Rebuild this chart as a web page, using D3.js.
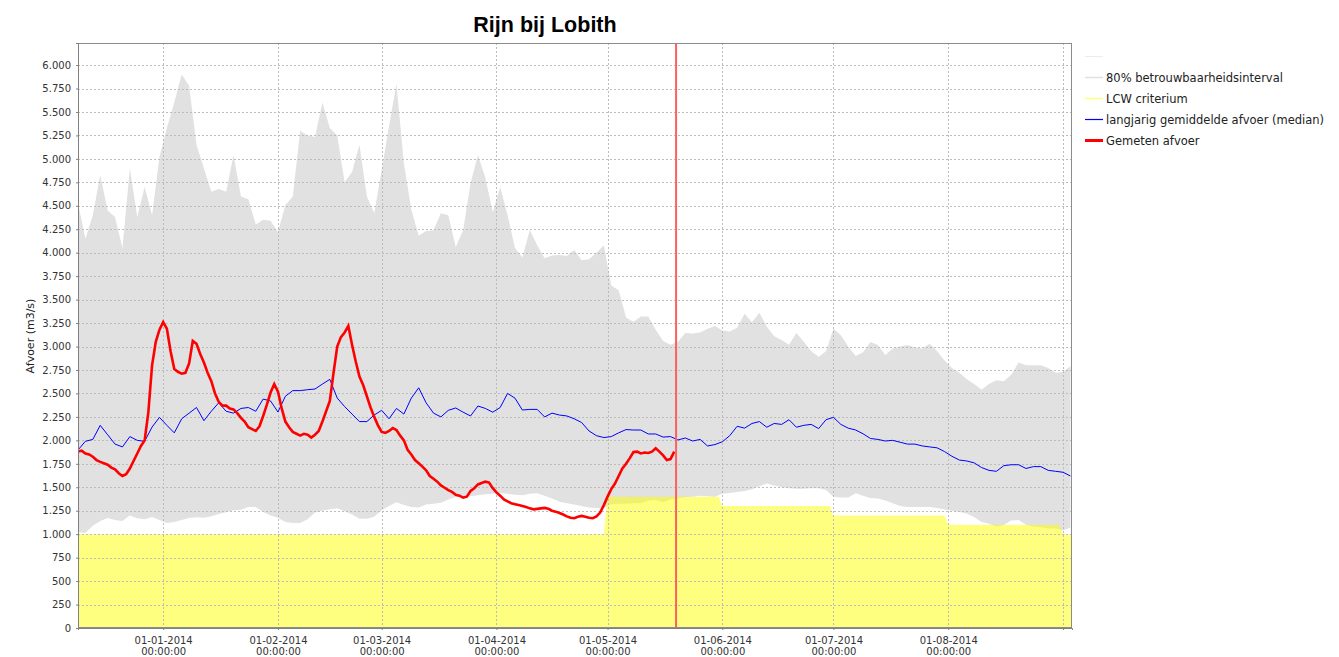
<!DOCTYPE html>
<html><head><meta charset="utf-8">
<script src="https://cdn.jsdelivr.net/npm/d3@7"></script>
<style>
body{margin:0;background:#fff;}
svg{display:block;font-family:"DejaVu Sans",sans-serif;}
</style>
</head><body>
<svg id="c" width="1339" height="657"></svg>
<script>
const chartTitle = "Rijn bij Lobith";
const yAxisLabel = "Afvoer (m3/s)";
const legendLabels = ["", "80% betrouwbaarheidsinterval", "LCW criterium", "langjarig gemiddelde afvoer (median)", "Gemeten afvoer"];
const startDate = "2013-12-09T00:00";
const endDate = "2014-09-03T10:00";
const nowDate = "2014-05-19T12:00";
const yTicks = [0,250,500,750,1000,1250,1500,1750,2000,2250,2500,2750,3000,3250,3500,3750,4000,4250,4500,4750,5000,5250,5500,5750,6000];
const xTickDates = ["2014-01-01T00:00","2014-02-01T00:00","2014-03-01T00:00","2014-04-01T00:00","2014-05-01T00:00","2014-06-01T00:00","2014-07-01T00:00","2014-08-01T00:00","2014-09-01T00:00"];
const xTickLabelled = [true,true,true,true,true,true,true,true,false];
const bandStepDays = 2;

// 80% interval, upper bound (every 2 days from startDate)
const upperValues = [4530,4150,4400,4828,4450,4380,4050,4900,4380,4700,4400,5020,5329,5600,5900,5780,5150,4900,4650,4680,
4650,5041,4600,4570,4300,4350,4340,4220,4508,4600,5300,5250,5233,5600,5330,5250,4750,4860,5150,4600,
4420,4880,5350,5800,4950,4460,4180,4230,4240,4420,4400,4060,4240,4740,5040,4800,4430,4700,4400,4050,
3950,4242,4080,3940,3970,3975,3965,4030,3920,3930,4000,4080,3650,3600,3310,3265,3320,3320,3180,3060,
3020,3050,3144,3140,3150,3190,3220,3170,3160,3200,3350,3260,3360,3210,3110,3070,3020,3144,3050,2950,
2890,2950,3190,3120,3000,2900,2940,3048,3016,2910,2980,3000,3016,2990,2980,3030,2950,2850,2770,2720,
2650,2600,2540,2600,2640,2630,2700,2830,2800,2800,2800,2770,2720,2728,2790];
// 80% interval, lower bound
const lowerValues = [1023,1012,1090,1140,1172,1150,1140,1200,1170,1160,1183,1150,1120,1130,1150,1172,1180,1175,1190,1215,
1235,1255,1260,1290,1290,1236,1200,1175,1130,1119,1119,1160,1230,1250,1265,1275,1245,1210,1165,1165,
1185,1255,1300,1340,1310,1290,1285,1315,1325,1335,1370,1395,1400,1405,1415,1425,1430,1440,1430,1420,
1415,1430,1435,1410,1380,1345,1330,1315,1300,1285,1280,1280,1320,1325,1325,1330,1330,1360,1365,1340,
1370,1380,1395,1400,1410,1405,1400,1430,1440,1450,1460,1480,1510,1540,1520,1500,1490,1485,1485,1490,
1490,1470,1400,1390,1390,1435,1410,1385,1380,1360,1330,1300,1290,1290,1290,1290,1280,1262,1250,1236,
1220,1180,1130,1110,1080,1098,1145,1150,1100,1080,1075,1060,1060,1040,1070];
// long-term median
const medianValues = [1897,1990,2010,2160,2060,1960,1930,2040,2000,1990,2142,2245,2160,2080,2230,2290,2350,2210,2310,2400,
2310,2290,2340,2350,2310,2440,2420,2302,2470,2530,2530,2540,2547,2600,2650,2451,2360,2280,2200,2200,
2270,2320,2230,2340,2280,2450,2560,2400,2290,2250,2320,2345,2300,2260,2366,2340,2300,2350,2500,2450,
2323,2330,2330,2250,2290,2270,2260,2230,2190,2100,2050,2030,2040,2080,2115,2110,2110,2068,2068,2035,
2040,2004,2025,1993,2010,1940,1955,1985,2050,2150,2130,2180,2200,2140,2180,2170,2220,2140,2160,2170,
2125,2220,2245,2170,2130,2110,2070,2020,2010,1993,2000,1980,1960,1960,1940,1930,1920,1880,1830,1790,
1780,1760,1710,1680,1670,1730,1740,1740,1700,1720,1720,1680,1670,1660,1620];
// measured discharge, daily from startDate
const measuredValues = [1880,1890,1860,1850,1825,1790,1770,1755,1740,1710,1690,1650,1620,1640,1700,1780,1860,1940,2000,2300,
2800,3050,3180,3260,3190,2950,2760,2730,2710,2720,2820,3060,3030,2920,2830,2720,2630,2500,2410,2370,
2370,2340,2330,2290,2240,2200,2140,2120,2100,2150,2260,2380,2510,2600,2520,2340,2200,2140,2090,2070,
2050,2070,2060,2030,2060,2100,2200,2310,2420,2720,3000,3100,3150,3220,3020,2840,2680,2590,2470,2350,
2250,2160,2090,2080,2100,2130,2110,2050,2000,1900,1850,1790,1755,1720,1680,1620,1590,1560,1520,1495,
1470,1450,1420,1410,1390,1400,1460,1490,1530,1545,1560,1550,1490,1445,1410,1370,1350,1330,1320,1310,
1300,1290,1275,1265,1270,1275,1280,1270,1250,1240,1225,1210,1190,1175,1170,1185,1195,1185,1175,1170,
1190,1230,1310,1400,1480,1540,1620,1700,1750,1810,1875,1880,1860,1870,1865,1880,1915,1880,1840,1790,
1800,1880];
// LCW criterium per month
const lcwMonths = ["2013-12","2014-01","2014-02","2014-03","2014-04","2014-05","2014-06","2014-07","2014-08","2014-09"];
const lcwValues = [1000,1000,1000,1000,1000,1400,1300,1200,1100,1000];

const parseT = d3.utcParse("%Y-%m-%dT%H:%M");
const parseM = d3.utcParse("%Y-%m");
const t0 = parseT(startDate), t1 = parseT(endDate);

const L = 78, R = 1072, T = 43, B = 628;
const x = d3.scaleUtc().domain([t0, t1]).range([L, R]);
const y = d3.scaleLinear().domain([0, 6235]).range([B, T]);

const svg = d3.select("#c");
svg.append("defs").append("clipPath").attr("id","clip")
  .append("rect").attr("x",L).attr("y",T).attr("width",R-L).attr("height",B-T);

const band = upperValues.map((u,i)=>({t:d3.utcDay.offset(t0,i*bandStepDays), hi:u, lo:lowerValues[i]}));
const median = medianValues.map((v,i)=>({t:d3.utcDay.offset(t0,i*bandStepDays), v}));
const measured = measuredValues.map((v,i)=>({t:d3.utcDay.offset(t0,i), v}));
const lcw = [];
lcwMonths.forEach((m,i)=>{
  const ms = parseM(m);
  const me = d3.utcDay.offset(d3.utcMonth.offset(ms,1),-1);
  const a = ms < t0 ? t0 : ms;
  const b = me > t1 ? t1 : me;
  lcw.push({t:a, v:lcwValues[i]});
  lcw.push({t:b, v:lcwValues[i]});
});

const plot = svg.append("g").attr("clip-path","url(#clip)");
plot.append("rect").attr("x",L).attr("y",T).attr("width",R-L).attr("height",B-T).attr("fill","#ffffff");

plot.append("path").datum(band)
  .attr("fill","#e1e1e1")
  .attr("d", d3.area().x(d=>x(d.t)).y0(d=>y(d.lo)).y1(d=>y(d.hi)));

plot.append("path").datum(lcw)
  .attr("fill","rgba(255,255,0,0.5)")
  .attr("d", d3.area().x(d=>x(d.t)).y0(y(0)).y1(d=>y(d.v)));

// grid
const grid = plot.append("g").attr("stroke","#bcbcbc").attr("stroke-width",1).attr("stroke-dasharray","2,2");
yTicks.forEach(v=>{
  grid.append("line").attr("x1",L).attr("x2",R).attr("y1",Math.round(y(v))+0.5).attr("y2",Math.round(y(v))+0.5);
});
xTickDates.forEach(s=>{
  const xv = Math.round(x(parseT(s)))+0.5;
  grid.append("line").attr("x1",xv).attr("x2",xv).attr("y1",T).attr("y2",B);
});

plot.append("path").datum(median)
  .attr("fill","none").attr("stroke","#0000ff").attr("stroke-width",1)
  .attr("d", d3.line().x(d=>x(d.t)).y(d=>y(d.v)));

plot.append("path").datum(measured)
  .attr("fill","none").attr("stroke","#ff0000").attr("stroke-width",2.6).attr("stroke-linejoin","miter")
  .attr("d", d3.line().x(d=>x(d.t)).y(d=>y(d.v)));

const xNow = x(parseT(nowDate));
plot.append("line").attr("x1",xNow).attr("x2",xNow).attr("y1",T).attr("y2",B)
  .attr("stroke","#ff5f5f").attr("stroke-width",2);

// frame
svg.append("rect").attr("x",L+0.5).attr("y",T+0.5).attr("width",R-L-1).attr("height",B-T-1)
  .attr("fill","none").attr("stroke","#8c8c8c").attr("stroke-width",1);

// y axis
const fmt = v => d3.format(",")(v).replace(/,/g,".");
const yAx = svg.append("g").attr("transform",`translate(${L},0)`)
  .call(d3.axisLeft(y).tickValues(yTicks).tickSize(2).tickPadding(5).tickFormat(fmt));
yAx.select(".domain").attr("stroke","#808080");
yAx.selectAll(".tick line").attr("stroke","#808080");
yAx.selectAll(".tick text").attr("fill","#333").style("font-size","10px").style("font-family","DejaVu Sans");

// x axis
const xAx = svg.append("g").attr("transform",`translate(0,${B})`)
  .call(d3.axisBottom(x).tickValues(xTickDates.map(parseT)).tickSize(2).tickFormat(""));
xAx.select(".domain").attr("stroke","#808080");
xAx.selectAll(".tick line").attr("stroke","#808080");
const dfmt = d3.utcFormat("%d-%m-%Y"), tfmt = d3.utcFormat("%H:%M:%S");
xAx.selectAll(".tick").each(function(d,i){
  if(!xTickLabelled[i]) return;
  const g = d3.select(this);
  g.select("text").remove();
  const tx = g.append("text").attr("fill","#333").attr("text-anchor","middle")
    .style("font-size","10px").style("font-family","DejaVu Sans");
  tx.append("tspan").attr("x",0).attr("y",16).text(dfmt(d));
  tx.append("tspan").attr("x",0).attr("y",27).text(tfmt(d));
});

// y label
svg.append("text").attr("transform",`translate(34,336) rotate(-90)`)
  .attr("text-anchor","middle").attr("fill","#222").style("font-size","11px").text(yAxisLabel);

// title
svg.append("text").attr("x",545).attr("y",32).attr("text-anchor","middle")
  .style("font-family","Liberation Sans, Arial, sans-serif").style("font-weight","bold").style("font-size","21.5px")
  .attr("fill","#000").text(chartTitle);

// legend
const legendColors = ["#ececec","#e1e1e1","#ffff80","#0000ff","#ff0000"];
const legendWidths = [1,1.5,1.5,1.2,3];
const lg = svg.append("g");
legendLabels.forEach((lab,i)=>{
  const yy = 56 + i*21;
  lg.append("line").attr("x1",1085).attr("x2",1103).attr("y1",yy+0.5).attr("y2",yy+0.5)
    .attr("stroke",legendColors[i]).attr("stroke-width",legendWidths[i]);
  lg.append("text").attr("x",1106).attr("y",yy+4.5).attr("fill","#222")
    .style("font-size","11.5px").text(lab);
});
</script>
</body></html>
